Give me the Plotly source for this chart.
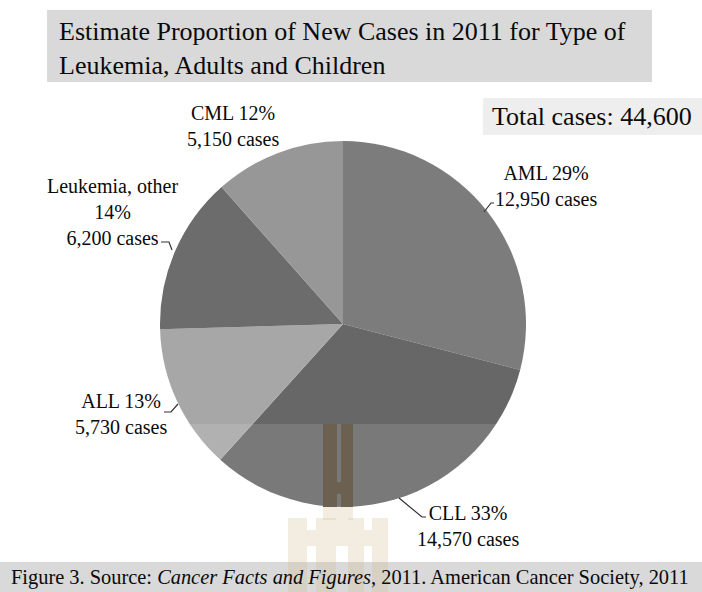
import plotly.graph_objects as go

# Estimated new leukemia cases in 2011 by type (adults and children)
types = ["AML", "CLL", "ALL", "Leukemia, other", "CML"]
cases = [12950, 14570, 5730, 6200, 5150]
name_sep = [" ", " ", " ", "<br>", " "]
slice_colors = ["#7c7c7c", "#676767", "#a7a7a7", "#6c6c6c", "#979797"]

title_text = "Estimate Proportion of New Cases in 2011 for Type of<br>Leukemia, Adults and Children"
caption_text = ("Figure 3. Source: <i>Cancer Facts and Figures</i>, 2011. "
                "American Cancer Society, 2011")

W, H = 702, 592
SERIF = "Liberation Serif, Times New Roman, serif"


def px(x):
    return x / W


def py(y):
    return 1 - y / H


total = sum(cases)
pcts = [round(100 * c / total) for c in cases]
labels = [f"{t}{s}{p}%<br>{c:,} cases" for t, s, p, c in zip(types, name_sep, pcts, cases)]

fig = go.Figure()
fig.add_trace(go.Pie(
    labels=types,
    values=cases,
    sort=False,
    direction="clockwise",
    rotation=0,
    textinfo="none",
    hoverinfo="label+value+percent",
    marker=dict(colors=slice_colors, line=dict(width=0)),
    domain=dict(x=[px(160), px(526)], y=[py(507), py(141)]),
    showlegend=False,
))

shapes = []
# title panel, total panel, caption band
shapes.append(dict(type="rect", xref="paper", yref="paper", x0=px(47), x1=px(652),
                   y0=py(82), y1=py(10), fillcolor="#d9d9d9", line=dict(width=0), layer="below"))
shapes.append(dict(type="rect", xref="paper", yref="paper", x0=px(483), x1=px(702),
                   y0=py(135), y1=py(98), fillcolor="#eeeeee", line=dict(width=0), layer="below"))
shapes.append(dict(type="rect", xref="paper", yref="paper", x0=0, x1=1,
                   y0=0, y1=py(562), fillcolor="#d9d9d9", line=dict(width=0), layer="below"))

# light wash over the lower band
shapes.append(dict(type="rect", xref="paper", yref="paper", x0=0, x1=1,
                   y0=py(562), y1=py(424), fillcolor="rgba(255,255,255,0.12)",
                   line=dict(width=0), layer="above"))


def box(x0, y0, x1, y1, color):
    return dict(type="rect", xref="paper", yref="paper", x0=px(x0), x1=px(x1),
                y0=py(y1), y1=py(y0), fillcolor=color, line=dict(width=0), layer="above")


# emblem: tower over the pie
brown = "#6c6150"
shapes += [box(323, 424, 337, 507, brown), box(341, 424, 353, 507, brown),
           box(337, 482, 341, 494, brown)]
# emblem: legs below the pie
beige = "rgba(210,185,140,0.26)"
shapes += [box(323, 507, 353, 520, beige), box(336, 520, 348, 546, beige),
           box(288, 518, 307, 592, beige), box(316, 518, 336, 592, beige),
           box(307, 530, 316, 546, beige),
           box(348, 518, 364, 592, beige), box(372, 518, 388, 592, beige),
           box(364, 530, 372, 546, beige)]


def path(points):
    d = "M " + " L ".join(f"{px(x)},{py(y)}" for x, y in points)
    return dict(type="path", xref="paper", yref="paper", path=d,
                line=dict(color="#333333", width=1.2), layer="above")


# leader lines
shapes += [
    path([(484, 212), (491, 203), (494, 203)]),        # AML
    path([(399, 498), (422, 517), (426, 517)]),        # CLL
    path([(164, 412), (171, 412), (178, 404)]),        # ALL
    path([(161, 242), (169, 242), (172, 250)]),        # other
]

annotations = [
    dict(text=title_text, x=px(57), y=py(48), xanchor="left", yanchor="middle",
         align="left", font=dict(family=SERIF, size=26, color="#0a0a0a")),
    dict(text=f"Total cases: {total:,}", x=px(592), y=py(117), xanchor="center",
         yanchor="middle", font=dict(family=SERIF, size=26, color="#0a0a0a")),
    dict(text=caption_text, x=px(9), y=py(577), xanchor="left", yanchor="middle",
         align="left", font=dict(family=SERIF, size=20.4, color="#0a0a0a")),
]

# slice label positions (pixels): AML, CLL, ALL, other, CML
label_pos = [(546, 186), (468, 526), (121, 414), (112, 212), (233, 126)]
for lab, (x, y) in zip(labels, label_pos):
    annotations.append(dict(text=lab, x=px(x), y=py(y), xanchor="center", yanchor="middle",
                            align="center", font=dict(family=SERIF, size=20, color="#0a0a0a")))

for a in annotations:
    a.update(xref="paper", yref="paper", showarrow=False)

fig.update_layout(
    width=W, height=H,
    margin=dict(l=0, r=0, t=0, b=0),
    paper_bgcolor="white", plot_bgcolor="white",
    shapes=shapes, annotations=annotations,
)

fig.write_html("out.html")
